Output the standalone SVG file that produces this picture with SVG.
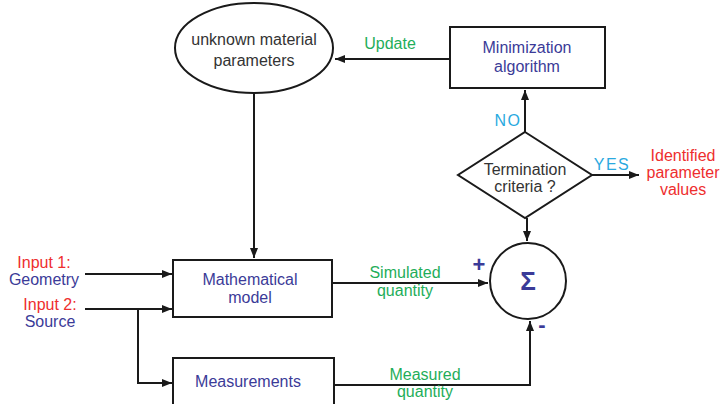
<svg xmlns="http://www.w3.org/2000/svg" width="721" height="404" viewBox="0 0 721 404">
<defs>
<marker id="ah" markerWidth="10" markerHeight="8" refX="10" refY="4" orient="auto" markerUnits="userSpaceOnUse">
<path d="M0,0 L10,4 L0,8 Z" fill="#1a1a1a"/>
</marker>
<style>
text{font-family:"Liberation Sans",Arial,sans-serif;font-size:16px;text-anchor:middle}
.shape{fill:#fff;stroke:#1a1a1a;stroke-width:2}
.ln{fill:none;stroke:#1a1a1a;stroke-width:2;marker-end:url(#ah)}
.blue{fill:#3b3b98}
.red{fill:#ee2e2e}
.green{fill:#1fae5a}
.cyan{fill:#2aa9e0;letter-spacing:1.5px}
.dark{fill:#333}
</style>
</defs>
<rect width="721" height="404" fill="#fff"/>
<g id="connectors">
<path class="ln" d="M254,93 V258"/>
<path class="ln" d="M450,59 H335"/>
<path class="ln" d="M525,132 V90"/>
<path class="ln" d="M592,175 H639"/>
<path class="ln" d="M527,218 V241"/>
<path class="ln" d="M85,274 H172"/>
<path class="ln" d="M85,309 H172"/>
<path class="ln" d="M138,309 V383 H172"/>
<path class="ln" d="M332,283 H488"/>
<path class="ln" d="M334,385 H530 V321"/>
<text class="green" x="390" y="49">Update</text>
<text class="cyan" x="508" y="126">NO</text>
<text class="cyan" x="612" y="170">YES</text>
<text class="green" x="405" y="278">Simulated</text>
<text class="green" x="405" y="296">quantity</text>
<text class="green" x="425" y="380">Measured</text>
<text class="green" x="425" y="397">quantity</text>
<text class="blue" x="479" y="272" style="font-size:22px;font-weight:bold">+</text>
<text class="blue" x="542" y="332" style="font-size:22px;font-weight:bold">-</text>
</g>
<g id="unknown">
<ellipse class="shape" cx="254" cy="48" rx="79" ry="45"/>
<text class="dark" x="254" y="45">unknown material</text>
<text class="dark" x="254" y="66">parameters</text>
</g>
<g id="minimization">
<rect class="shape" x="450" y="27" width="155" height="61"/>
<text class="blue" x="527" y="53">Minimization</text>
<text class="blue" x="527" y="72">algorithm</text>
</g>
<g id="termination">
<polygon class="shape" points="525,132 592,175 525,218 458,175"/>
<text class="dark" x="525" y="175">Termination</text>
<text class="dark" x="525" y="192">criteria ?</text>
</g>
<g id="identified">
<text class="red" x="683" y="161">Identified</text>
<text class="red" x="683" y="178">parameter</text>
<text class="red" x="683" y="195">values</text>
</g>
<g id="inputs">
<text class="red" x="44" y="268">Input 1:</text>
<text class="blue" x="44" y="285">Geometry</text>
<text class="red" x="50" y="310">Input 2:</text>
<text class="blue" x="50" y="327">Source</text>
</g>
<g id="model">
<rect class="shape" x="173" y="260" width="159" height="57"/>
<text class="blue" x="250" y="285">Mathematical</text>
<text class="blue" x="250" y="303">model</text>
</g>
<g id="sum">
<circle class="shape" cx="528" cy="281" r="38"/>
<text class="blue" x="528" y="290" style="font-size:26px;font-weight:bold">Σ</text>
</g>
<g id="measurements">
<rect class="shape" x="173" y="358" width="161" height="60"/>
<text class="blue" x="248" y="387">Measurements</text>
</g>
</svg>
